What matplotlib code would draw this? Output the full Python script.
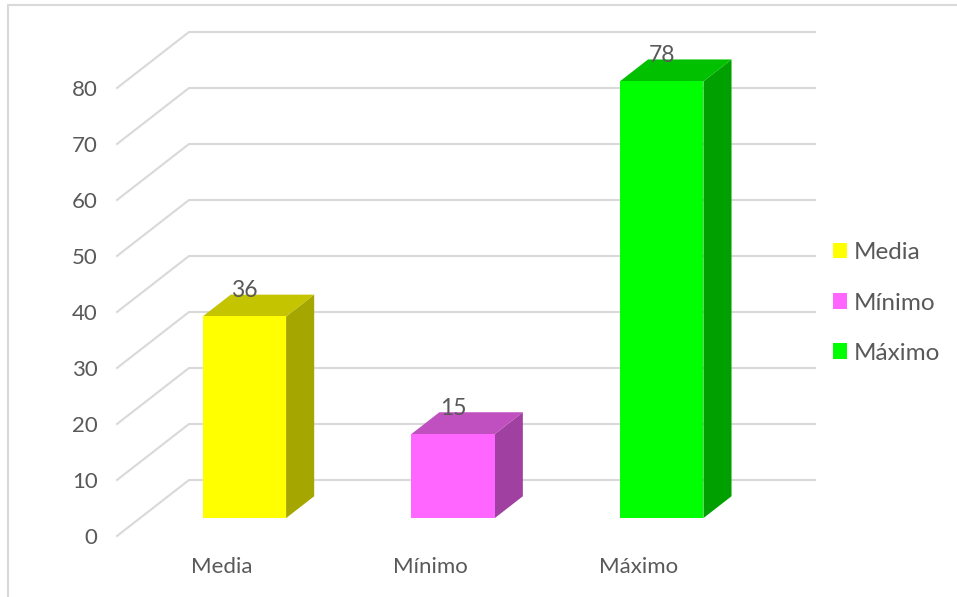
import matplotlib
matplotlib.use('Agg')
import matplotlib.pyplot as plt
from matplotlib.patches import Rectangle, Polygon, Patch

categories = ['Media', 'Mínimo', 'Máximo']
values = [36, 15, 78]
y_ticks = [0, 10, 20, 30, 40, 50, 60, 70, 80]

front_colors = ['#ffff00', '#ff66ff', '#00ff00']
top_colors = ['#c4c400', '#c050c0', '#00c000']
side_colors = ['#a6a600', '#a040a0', '#00a000']

text_color = '#595959'
grid_color = '#d9d9d9'

# oblique "3d" look: full floor depth in data units
DX = 0.345
DY = 10.0
t_front, t_back = 0.32, 0.71
bar_w = 0.4

plt.rcParams['font.family'] = ['Lato', 'DejaVu Sans']

W, H = 957, 597
fig = plt.figure(figsize=(W / 100, H / 100), dpi=100)
ax = fig.add_axes([117 / W, (H - 536) / H, 698 / W, 504 / H])
ax.set_xlim(-0.5, len(categories) - 0.5 + DX)
ax.set_ylim(0, y_ticks[-1] + DY)
for s in ax.spines.values():
    s.set_visible(False)

# side wall diagonals + back wall lines
x0 = -0.5
x1 = len(categories) - 0.5
for v in y_ticks:
    ax.plot([x0, x0 + DX, x1 + DX], [v, v + DY, v + DY],
            color=grid_color, lw=1.5, zorder=1, clip_on=False)

for i, (v, fc, tc, sc) in enumerate(zip(values, front_colors, top_colors, side_colors)):
    xl = i - bar_w / 2 + t_front * DX
    xr = xl + bar_w
    yb = t_front * DY
    ddx = (t_back - t_front) * DX
    ddy = (t_back - t_front) * DY
    ax.add_patch(Polygon([(xr, yb), (xr, yb + v), (xr + ddx, yb + v + ddy), (xr + ddx, yb + ddy)],
                         closed=True, facecolor=sc, edgecolor='none', zorder=3))
    ax.add_patch(Polygon([(xl, yb + v), (xr, yb + v), (xr + ddx, yb + v + ddy), (xl + ddx, yb + v + ddy)],
                         closed=True, facecolor=tc, edgecolor='none', zorder=3))
    ax.add_patch(Rectangle((xl, yb), bar_w, v, facecolor=fc, edgecolor='none', zorder=4))
    ax.annotate(str(v), (i + t_front * DX, v + t_back * DY), xytext=(0, 3),
                textcoords='offset points', ha='center', va='center',
                fontsize=16.5, color=text_color, zorder=5)

ax.set_yticks(y_ticks)
ax.set_yticklabels([str(v) for v in y_ticks])
ax.set_xticks(range(len(categories)))
ax.set_xticklabels(categories)
ax.tick_params(axis='y', length=0, pad=14, labelsize=16, labelcolor=text_color)
ax.tick_params(axis='x', length=0, pad=15, labelsize=16, labelcolor=text_color)

handles = [Patch(facecolor=c, edgecolor='none') for c in front_colors]
leg = fig.legend(handles, categories, loc='center left',
                 bbox_to_anchor=(811 / W, 1 - 303 / H), frameon=False,
                 fontsize=17.5, handlelength=0.6, handleheight=0.6,
                 handletextpad=0.25, labelspacing=1.2)
for t in leg.get_texts():
    t.set_color(text_color)

# chart area border
fig.patches.append(Rectangle((8 / W, -0.1), 1.2, 1.1 - 5 / H, transform=fig.transFigure,
                             facecolor='none', edgecolor=grid_color, lw=1.5))

fig.savefig('out.png', dpi=100)
